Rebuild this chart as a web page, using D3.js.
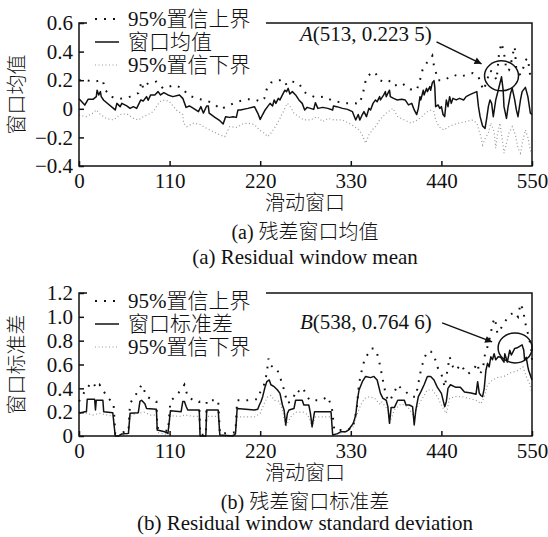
<!DOCTYPE html>
<html>
<head>
<meta charset="utf-8">
<script src="https://cdn.jsdelivr.net/npm/d3@7"></script>
<style>
  body { margin: 0; background: #fff; }
  text { font-family: "Liberation Serif", "Noto Sans CJK SC", serif; fill: #111; font-weight: 300; }
</style>
</head>
<body>
<div id="chart"></div>
<script>
// ---- data: [window, value] ----
const xTicks = [0, 110, 220, 330, 440, 550];
const meanTicks = [-0.4, -0.2, 0, 0.2, 0.4, 0.6];
const stdTicks = [0, 0.2, 0.4, 0.6, 0.8, 1.0, 1.2];

const meanLine = [[0,0.07],[7,0.026],[11,0.066],[17,0.066],[21,0.085],[22,0.13],[24,0.097],[26,0.12],[27,0.085],[30,0.06],[44,-0.008],[46,0.038],[50,0.015],[52,0.038],[58,0.02],[62,0.003],[66,0.015],[70,0.003],[73,0.038],[75,0.062],[78,0.055],[82,0.085],[84,0.06],[87,0.097],[92,0.097],[96,0.12],[99,0.097],[103,0.113],[108,0.097],[114,0.085],[122,0.097],[126,0.073],[130,0.01],[134,0.02],[139,0.003],[145,-0.02],[148,0.015],[151,-0.03],[155,0.02],[157,0.02],[158,-0.03],[165,-0.06],[171,-0.083],[175,-0.106],[178,-0.055],[183,-0.06],[187,-0.055],[191,-0.06],[193,-0.008],[196,-0.008],[205,0.003],[213,0.015],[217,-0.03],[220,-0.074],[223,-0.04],[226,-0.008],[229,0.015],[232,0.038],[235,0.02],[237,0.062],[239,0.038],[242,0.073],[244,0.062],[247,0.097],[250,0.13],[252,0.12],[254,0.143],[256,0.104],[259,0.12],[263,0.097],[267,0.062],[271,0.038],[274,-0.008],[277,0.01],[281,0.003],[285,-0.004],[287,0.043],[290,0.003],[296,0.01],[302,0.003],[308,-0.008],[309,0.02],[313,0.015],[320,0.003],[326,-0.004],[332,-0.02],[336,-0.078],[339,-0.04],[341,-0.078],[344,-0.04],[346,-0.02],[349,-0.055],[352,0.003],[354,-0.008],[357,0.038],[360,0.062],[362,0.05],[365,0.085],[366,0.062],[370,0.097],[372,0.12],[373,0.085],[377,0.13],[378,0.085],[382,0.073],[386,0.062],[392,0.066],[396,0.062],[400,0.027],[404,0.038],[407,-0.008],[410,-0.04],[412,0.003],[414,0.085],[415,0.062],[418,0.13],[419,0.097],[422,0.143],[423,0.12],[426,0.155],[427,0.13],[429,0.183],[431,0.197],[432,0.15],[433,0.015],[436,0.027],[438,0.003],[440,0.015],[442,-0.04],[444,-0.055],[446,0.062],[448,0.015],[450,0.085],[452,0.038],[454,0.073],[458,0.062],[462,0.073],[467,0.062],[470,0.085],[474,0.097],[478,0.108],[483,0.12],[485,0.015],[487,-0.055],[490,-0.12],[493,-0.137],[495,-0.067],[497,0.015],[499,0.062],[501,0.038],[503,-0.055],[506,0.062],[509,0.13],[513,0.2235],[515,0.13],[516,0.015],[519,-0.067],[521,0.015],[524,0.108],[526,0.143],[529,0.062],[531,-0.008],[533,-0.055],[536,0.062],[538,0.12],[542,0.15],[545,0.085],[548,-0.03],[550,-0.04]];

const meanUpper = [[0,0.2],[9,0.2],[17,0.19],[29,0.2],[31,0.14],[38,0.085],[50,0.07],[62,0.085],[72,0.11],[76,0.19],[78,0.14],[82,0.166],[84,0.18],[94,0.19],[102,0.143],[116,0.166],[126,0.143],[132,0.097],[142,0.073],[151,0.062],[158,0.05],[165,0.03],[172,-0.004],[180,0.02],[193,0.05],[203,0.066],[213,0.066],[221,0.05],[225,0.073],[227,0.12],[229,0.155],[233,0.183],[237,0.19],[241,0.2],[244,0.2],[247,0.206],[250,0.19],[252,0.166],[259,0.19],[267,0.18],[273,0.12],[277,0.104],[287,0.08],[298,0.085],[306,0.062],[313,0.05],[324,0.038],[336,0.038],[339,0.03],[344,0.085],[346,0.143],[349,0.22],[357,0.26],[360,0.25],[365,0.2],[370,0.19],[376,0.2],[382,0.16],[392,0.18],[402,0.136],[410,0.13],[414,0.2],[417,0.27],[422,0.32],[426,0.34],[429,0.37],[431,0.3],[433,0.26],[436,0.2],[444,0.2],[450,0.224],[456,0.236],[462,0.224],[470,0.236],[478,0.25],[485,0.224],[487,0.19],[491,0.13],[495,0.19],[499,0.27],[503,0.25],[507,0.2],[510,0.39],[513,0.46],[516,0.39],[519,0.27],[522,0.27],[525,0.33],[527,0.39],[529,0.435],[531,0.27],[536,0.236],[540,0.295],[542,0.34],[545,0.353],[548,0.224],[550,0.2]];

const meanLower = [[0,-0.044],[9,-0.055],[17,-0.03],[21,-0.008],[26,-0.04],[33,-0.067],[42,-0.078],[50,-0.04],[58,-0.035],[66,-0.067],[72,-0.078],[78,-0.055],[84,-0.04],[90,-0.02],[94,0.015],[98,0.05],[104,0.062],[110,0.05],[118,-0.008],[126,-0.04],[127,-0.1],[131,-0.125],[139,-0.1],[147,-0.11],[155,-0.137],[163,-0.16],[171,-0.183],[177,-0.195],[183,-0.125],[191,-0.13],[199,-0.106],[205,-0.1],[213,-0.11],[219,-0.148],[225,-0.17],[229,-0.195],[233,-0.17],[237,-0.137],[241,-0.1],[245,-0.055],[249,-0.008],[253,0.038],[257,0.01],[261,-0.03],[267,-0.055],[273,-0.078],[281,-0.078],[289,-0.055],[296,-0.09],[302,-0.067],[310,-0.078],[320,-0.078],[331,-0.11],[340,-0.148],[344,-0.183],[348,-0.24],[352,-0.183],[356,-0.148],[360,-0.125],[365,-0.078],[373,-0.03],[381,0.003],[387,-0.055],[395,-0.078],[403,-0.1],[411,-0.078],[417,-0.05],[423,-0.02],[427,-0.01],[431,-0.02],[433,-0.078],[437,-0.125],[443,-0.148],[449,-0.125],[455,-0.11],[461,-0.1],[469,-0.09],[477,-0.078],[483,-0.1],[486,-0.16],[488,-0.195],[490,-0.253],[493,-0.21],[497,-0.17],[500,-0.1],[504,-0.16],[506,-0.276],[508,-0.183],[511,-0.1],[514,-0.22],[516,-0.31],[518,-0.265],[522,-0.17],[526,-0.125],[530,-0.183],[533,-0.276],[536,-0.31],[539,-0.22],[542,-0.148],[545,-0.2],[548,-0.29],[550,-0.31]];

const stdLine = [[0,0.19],[7,0.204],[9,0.204],[10,0.308],[19,0.308],[20,0.218],[21,0.3],[29,0.3],[30,0.204],[41,0.196],[44,0],[48,0],[52,0.017],[60,0.022],[62,0.19],[72,0.196],[74,0.29],[76,0.3],[80,0.27],[82,0.23],[94,0.224],[95,0.05],[104,0.036],[108,0.022],[111,0.212],[124,0.204],[126,0.29],[128,0.29],[130,0.25],[132,0.218],[146,0.218],[147,0],[154,0],[155,0.218],[169,0.218],[171,0.008],[187,0],[190,0.02],[192,0.23],[213,0.218],[217,0.225],[219,0.26],[221,0.29],[223,0.33],[226,0.414],[228,0.456],[231,0.47],[233,0.43],[237,0.414],[241,0.386],[244,0.358],[247,0.26],[249,0.218],[251,0.092],[253,0.19],[255,0.218],[261,0.23],[263,0.3],[271,0.3],[273,0.26],[279,0.26],[281,0.19],[283,0.078],[286,0.204],[306,0.204],[308,0.008],[314,0.02],[318,0.036],[324,0.036],[327,0.05],[330,0.078],[333,0.106],[336,0.176],[338,0.3],[340,0.386],[344,0.456],[348,0.5],[354,0.49],[358,0.5],[362,0.47],[366,0.358],[369,0.316],[373,0.3],[375,0.246],[377,0.106],[379,0.24],[383,0.24],[387,0.3],[395,0.3],[397,0.26],[401,0.26],[405,0.246],[407,0.092],[409,0.22],[412,0.33],[415,0.37],[419,0.43],[423,0.5],[427,0.5],[431,0.47],[435,0.41],[440,0.358],[444,0.246],[446,0.29],[448,0.4],[451,0.43],[457,0.41],[463,0.41],[468,0.37],[476,0.36],[482,0.35],[484,0.456],[486,0.36],[488,0.34],[490,0.33],[492,0.4],[494,0.55],[496,0.61],[498,0.58],[500,0.665],[502,0.64],[504,0.69],[506,0.64],[509,0.665],[512,0.66],[516,0.62],[517,0.69],[520,0.62],[523,0.72],[525,0.68],[529,0.735],[532,0.74],[538,0.7646],[540,0.72],[541,0.638],[543,0.66],[545,0.58],[546,0.55],[550,0.47]];

const stdUpper = [[0,0.29],[8,0.386],[13,0.43],[17,0.45],[21,0.4],[25,0.43],[29,0.386],[34,0.33],[42,0.27],[44,0.02],[60,0.04],[62,0.274],[70,0.358],[76,0.43],[79,0.386],[82,0.33],[94,0.29],[95,0.07],[108,0.04],[111,0.29],[124,0.386],[128,0.43],[132,0.33],[139,0.3],[146,0.29],[147,0.01],[154,0.01],[155,0.3],[169,0.3],[171,0.02],[190,0.03],[192,0.3],[205,0.3],[217,0.31],[221,0.386],[224,0.414],[228,0.526],[230,0.65],[232,0.6],[235,0.58],[240,0.57],[246,0.456],[249,0.386],[253,0.274],[259,0.3],[264,0.386],[268,0.37],[272,0.4],[275,0.36],[280,0.3],[294,0.3],[302,0.33],[307,0.24],[310,0.05],[320,0.05],[332,0.06],[337,0.218],[340,0.44],[343,0.54],[347,0.65],[351,0.69],[355,0.735],[358,0.735],[362,0.69],[366,0.58],[368,0.5],[373,0.33],[377,0.29],[383,0.37],[387,0.43],[391,0.4],[397,0.37],[403,0.33],[409,0.33],[415,0.55],[419,0.65],[423,0.71],[427,0.71],[431,0.68],[435,0.58],[440,0.52],[444,0.41],[448,0.58],[450,0.665],[454,0.58],[457,0.55],[464,0.6],[468,0.55],[472,0.52],[478,0.55],[484,0.61],[486,0.52],[490,0.55],[493,0.69],[496,0.75],[500,0.86],[502,0.945],[505,0.99],[508,0.86],[512,0.9],[516,0.945],[520,0.99],[524,1.02],[529,1.04],[533,1.0],[536,1.11],[539,1.06],[542,0.945],[545,0.86],[549,0.74],[550,0.64]];

const stdLower = [[0,0.204],[9,0.19],[17,0.176],[25,0.19],[34,0.176],[42,0.165],[44,0],[60,0.01],[62,0.165],[70,0.19],[79,0.2],[87,0.176],[94,0.176],[95,0.03],[108,0.01],[111,0.17],[124,0.165],[128,0.176],[139,0.165],[146,0.165],[147,0],[154,0],[155,0.165],[169,0.165],[171,0],[190,0.01],[192,0.16],[213,0.16],[220,0.19],[225,0.274],[229,0.33],[233,0.34],[237,0.3],[243,0.29],[247,0.218],[251,0.078],[257,0.16],[263,0.2],[272,0.2],[278,0.176],[283,0.078],[287,0.16],[306,0.16],[308,0.01],[322,0.03],[333,0.078],[338,0.19],[342,0.26],[347,0.316],[353,0.33],[359,0.316],[365,0.27],[367,0.29],[375,0.22],[377,0.106],[383,0.22],[391,0.27],[399,0.246],[407,0.16],[411,0.246],[417,0.316],[423,0.386],[429,0.386],[435,0.33],[441,0.246],[446,0.19],[450,0.316],[457,0.33],[465,0.33],[473,0.316],[482,0.3],[488,0.27],[492,0.33],[496,0.43],[502,0.47],[508,0.49],[516,0.5],[524,0.53],[533,0.55],[539,0.58],[543,0.5],[547,0.44],[550,0.36]];

const meanLegend = ["95%置信上界", "窗口均值", "95%置信下界"];
const stdLegend = ["95%置信上界", "窗口标准差", "95%置信下界"];
const pointA = [513, 0.2235];
const pointB = [538, 0.7646];

const width = 548, height = 537;

const svg = d3.select("#chart").append("svg")
  .attr("width", width).attr("height", height);

svg.append("defs").append("marker")
  .attr("id", "arrow")
  .attr("viewBox", "0 0 10 10")
  .attr("refX", 10).attr("refY", 5)
  .attr("markerWidth", 11).attr("markerHeight", 7)
  .attr("markerUnits", "userSpaceOnUse")
  .attr("orient", "auto")
  .append("path").attr("d", "M0,0L10,5L0,10z").attr("fill", "#111");

function fmt(d) {
  if (d === 0) return "0";
  return (d < 0 ? "\u2212" : "") + Math.abs(d).toFixed(1);
}

function drawPanel(p) {
  const g = svg.append("g");
  const x = d3.scaleLinear().domain([0, 550]).range([79, 532]);
  const y = d3.scaleLinear().domain(p.yDomain).range([p.bottom, p.top]);

  // series
  const line = d3.line().x(d => x(d[0])).y(d => y(d[1]));
  g.append("path").datum(p.lower).attr("d", line)
    .attr("fill", "none").attr("stroke", "#999").attr("stroke-width", 1.2)
    .attr("stroke-dasharray", "1 2.5");
  g.append("path").datum(p.upper).attr("d", line)
    .attr("fill", "none").attr("stroke", "#111").attr("stroke-width", 2)
    .attr("stroke-dasharray", "1.8 7");
  g.append("path").datum(p.main).attr("d", line)
    .attr("fill", "none").attr("stroke", "#111").attr("stroke-width", 1.5)
    .attr("stroke-linejoin", "round");

  // frame
  g.append("rect").attr("x", 79).attr("y", p.top)
    .attr("width", 532 - 79).attr("height", p.bottom - p.top)
    .attr("fill", "none").attr("stroke", "#111").attr("stroke-width", 1.5);

  // axes, ticks pointing inward
  const yAxis = d3.axisLeft(y).tickValues(p.yTicks).tickFormat(fmt)
    .tickSizeInner(-5).tickSizeOuter(0).tickPadding(6);
  const xAxis = d3.axisBottom(x).tickValues(xTicks).tickFormat(d3.format("d"))
    .tickSizeInner(-5).tickSizeOuter(0).tickPadding(7);
  const ya = g.append("g").attr("transform", "translate(79,0)").call(yAxis);
  const xa = g.append("g").attr("transform", "translate(0," + p.bottom + ")").call(xAxis);
  [ya, xa].forEach(a => {
    a.select(".domain").remove();
    a.selectAll("line").attr("stroke", "#111").attr("stroke-width", 1.5);
    a.selectAll("text").attr("font-size", 21).attr("fill", "#111")
      .style("font-family", "'Liberation Serif', serif");
  });

  // legend (white box hides part of the top border)
  g.append("rect").attr("x", 87).attr("y", p.top - 3).attr("width", 266 - 87).attr("height", 6)
    .attr("fill", "#fff");
  const styles = [
    { stroke: "#111", w: 2, dash: "2 7" },
    { stroke: "#111", w: 1.5, dash: null },
    { stroke: "#999", w: 1.2, dash: "1 2.5" }
  ];
  p.legend.forEach((name, i) => {
    const ly = p.legendY + i * 23;
    const s = styles[i];
    g.append("line").attr("x1", 95).attr("x2", 119).attr("y1", ly).attr("y2", ly)
      .attr("stroke", s.stroke).attr("stroke-width", s.w)
      .attr("stroke-dasharray", s.dash);
    g.append("text").attr("x", 128).attr("y", ly).attr("dy", "0.35em")
      .attr("font-size", 21).text(name);
  });

  // axis titles and captions
  g.append("text")
    .attr("transform", "translate(17," + (p.top + p.bottom) / 2 + ") rotate(-90)")
    .attr("text-anchor", "middle").attr("dy", "0.35em").attr("font-size", 20).text(p.yLabel);
  g.append("text").attr("x", 305).attr("y", p.bottom + 37).attr("dy", "0.35em")
    .attr("text-anchor", "middle").attr("font-size", 20).text("滑动窗口");
  g.append("text").attr("x", 305).attr("y", p.bottom + 66).attr("dy", "0.35em")
    .attr("text-anchor", "middle").attr("font-size", 20).text(p.caption1);
  g.append("text").attr("x", 305).attr("y", p.bottom + p.cap2).attr("dy", "0.35em")
    .attr("text-anchor", "middle").attr("font-size", 21).text(p.caption2);

  // annotation
  const px = x(p.point[0]), py = y(p.point[1]);
  const a = p.ann;
  g.append("ellipse").attr("cx", px + a.cdx).attr("cy", py + a.cdy)
    .attr("rx", 17).attr("ry", 15)
    .attr("fill", "none").attr("stroke", "#111").attr("stroke-width", 1.5);
  g.append("line")
    .attr("x1", px + a.ax1).attr("y1", py + a.ay1)
    .attr("x2", px + a.ax2).attr("y2", py + a.ay2)
    .attr("stroke", "#111").attr("stroke-width", 1.5)
    .attr("marker-end", "url(#arrow)");
  const t = g.append("text").attr("x", 300).attr("y", py + a.ty).attr("font-size", 21);
  t.append("tspan").attr("font-style", "italic").text(p.letter);
  t.append("tspan").text("(" + p.point[0] + ", " + p.pointLabel + ")");
}

drawPanel({
  top: 23, bottom: 166, yDomain: [-0.4, 0.6], yTicks: meanTicks,
  main: meanLine, upper: meanUpper, lower: meanLower,
  legend: meanLegend, legendY: 19, yLabel: "窗口均值", cap2: 91,
  caption1: "(a)  残差窗口均值", caption2: "(a)  Residual window mean",
  point: pointA, letter: "A", pointLabel: "0.223 5",
  ann: { cdx: 0, cdy: -1, ax1: -65, ay1: -35, ax2: -20, ay2: -13, ty: -36 }
});

drawPanel({
  top: 293, bottom: 436, yDomain: [0, 1.2], yTicks: stdTicks,
  main: stdLine, upper: stdUpper, lower: stdLower,
  legend: stdLegend, legendY: 301, yLabel: "窗口标准差", cap2: 87,
  caption1: "(b)  残差窗口标准差", caption2: "(b)  Residual window standard deviation",
  point: pointB, letter: "B", pointLabel: "0.764 6",
  ann: { cdx: -7, cdy: 3, ax1: -80, ay1: -22, ax2: -30, ay2: -3, ty: -16 }
});
</script>
</body>
</html>
